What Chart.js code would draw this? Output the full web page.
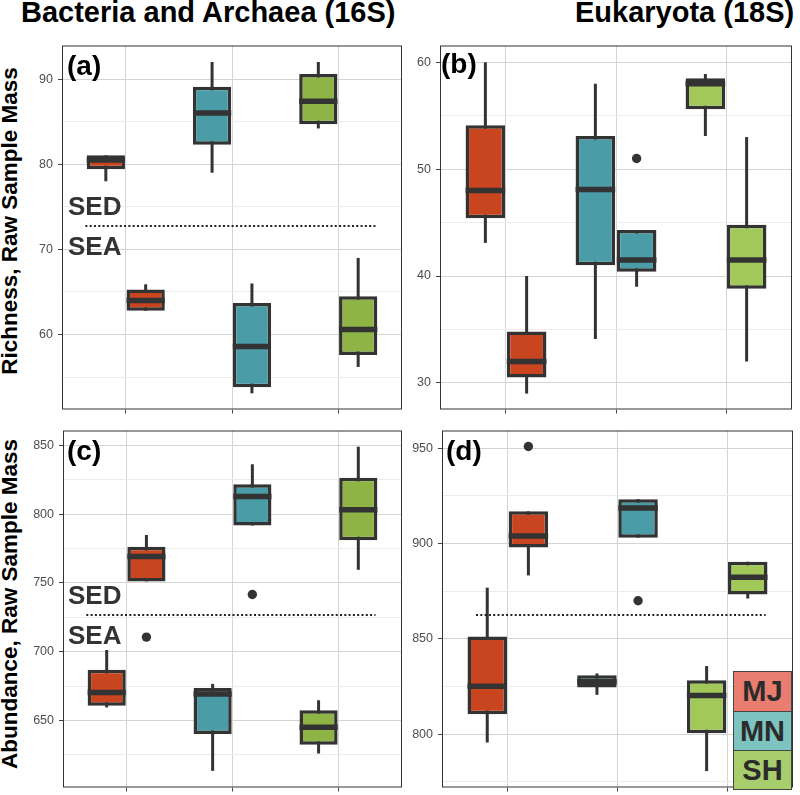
<!DOCTYPE html>
<html>
<head>
<meta charset="utf-8">
<script src="https://cdn.jsdelivr.net/npm/chart.js@4.4.1/dist/chart.umd.min.js"></script>
<style>
  body { margin: 0; background: #fff; font-family: "Liberation Sans", Arial, sans-serif; }
  #page { position: relative; width: 800px; height: 795px; overflow: hidden; }
  canvas { position: absolute; }
  .title { position: absolute; font-weight: bold; font-size: 29px; line-height: 29px; color: #000; white-space: nowrap; }
  .ytitle { position: absolute; font-weight: bold; font-size: 22.5px; line-height: 22.5px; color: #000; white-space: nowrap; transform: translate(-50%, -50%) rotate(-90deg); }
  .tag { position: absolute; font-weight: bold; font-size: 28px; line-height: 28px; color: #000; }
  .zone { position: absolute; font-weight: bold; font-size: 26px; line-height: 26px; color: #333; }
  .key { position: absolute; left: 733px; width: 59px; box-sizing: border-box; border: 1px solid #444; text-align: center; font-weight: bold; font-size: 29px; color: #2b2b2b; }
</style>
</head>
<body>
<div id="page">
  <div class="title" style="left:21px;top:-2px">Bacteria and Archaea (16S)</div>
  <div class="title" style="left:575px;top:-2px">Eukaryota (18S)</div>
  <div class="ytitle" style="left:10px;top:221px">Richness, Raw Sample Mass</div>
  <div class="ytitle" style="left:10px;top:604px">Abundance, Raw Sample Mass</div>

  <canvas id="chartA"></canvas>
  <canvas id="chartB"></canvas>
  <canvas id="chartC"></canvas>
  <canvas id="chartD"></canvas>

  <div class="tag" style="left:67px;top:52px">(a)</div>
  <div class="tag" style="left:441px;top:50px">(b)</div>
  <div class="tag" style="left:67px;top:437px">(c)</div>
  <div class="tag" style="left:446px;top:437px">(d)</div>

  <div class="zone" style="left:68px;top:193px">SED</div>
  <div class="zone" style="left:68px;top:233px">SEA</div>
  <div class="zone" style="left:68px;top:582px">SED</div>
  <div class="zone" style="left:68px;top:622px">SEA</div>

  <div class="key" style="top:671px;height:41px;line-height:39px;background:#E97D6F">MJ</div>
  <div class="key" style="top:711px;height:40px;line-height:38px;background:#7DC3C0">MN</div>
  <div class="key" style="top:750px;height:40px;line-height:38px;background:#A8CD6D">SH</div>
</div>

<script>
// sites, each has two boxes side by side (left, right)
const groups = ["MJ", "MN", "SH"];

// boxes: [min, q1, median, q3, max], order MJ-L, MJ-R, MN-L, MN-R, SH-L, SH-R
const richBac = [
  [78, 79.4, 80.5, 81.05, 81.05],
  [62.8, 62.8, 64.0, 65.3, 65.9],
  [79, 82.3, 86.0, 89.1, 92],
  [53.1, 53.8, 58.6, 63.7, 66],
  [84.2, 84.7, 87.4, 90.6, 92],
  [56.2, 57.6, 60.6, 64.5, 69]
];
const richEuk = [
  [43.1, 45.4, 48.0, 54.1, 60],
  [29, 30.5, 32.0, 34.8, 40],
  [34.1, 41.0, 48.1, 53.1, 58],
  [39.0, 40.4, 41.5, 44.3, 44.3],
  [53.1, 55.6, 58.0, 58.5, 58.9],
  [32.0, 38.8, 41.5, 44.8, 53]
];
const abundBac = [
  [659.5, 660.7, 670.4, 686.9, 701.2],
  [751.1, 751.1, 769.1, 776.2, 784.8],
  [613.4, 640.1, 669.3, 673.6, 676.6],
  [791.7, 791.7, 812.8, 821.6, 836.2],
  [626, 632.4, 645.1, 657.5, 664.7],
  [759.5, 781.0, 803.2, 826.4, 849]
];
const abundEuk = [
  [795.7, 810.5, 825.2, 851.3, 876.9],
  [883.3, 897.9, 904.0, 916.9, 916.9],
  [820.7, 824.6, 827.6, 831, 831.9],
  [903.1, 903.1, 918.6, 923.3, 923.3],
  [780.7, 800.5, 820.3, 828.4, 835.8],
  [871.2, 873.3, 882.4, 890.5, 890.5]
];

// outliers: [box index, value]
const richBacOut = [];
const richEukOut = [[3, 51.0]];
const abundBacOut = [[1, 710.6], [3, 741.6]];
const abundEukOut = [[1, 950.9], [3, 870]];

// SED / SEA split level (null = none)
const richBacSplit = 72.7;
const richEukSplit = null;
const abundBacSplit = 726.8;
const abundEukSplit = 862.6;

// y tick labels
const richBacTicks = [60, 70, 80, 90];
const richEukTicks = [30, 40, 50, 60];
const abundBacTicks = [650, 700, 750, 800, 850];
const abundEukTicks = [800, 850, 900, 950];

const RED = "#C9451F", TEAL = "#4A9CA7";
const fillsLeft = [RED, TEAL, "#8DB444"];
const fillsRight = [RED, TEAL, "#A2C85A"];

const xPos = groups.flatMap((g, i) => [i + 1 - 0.1875, i + 1 + 0.1875]);

Chart.defaults.font.family = '"Liberation Sans", Arial, sans-serif';

function buildPanel(id, area, yRange, boxes, outliers, split, splitSpan, majors, step, fills) {
  const padL = 45, padT = 10, padR = 5, padB = 10;
  const canvas = document.getElementById(id);
  const w = area.r - area.l + padL + padR;
  const h = area.b - area.t + padT + padB;
  canvas.width = w;
  canvas.height = h;
  canvas.style.width = w + "px";
  canvas.style.height = h + "px";
  canvas.style.left = area.l - padL + "px";
  canvas.style.top = area.t - padT + "px";

  const allTicks = [];
  majors.forEach((v) => {
    allTicks.push(v);
    [v - step / 2, v + step / 2].forEach((m) => {
      if (m > yRange[0] && m < yRange[1] && !allTicks.includes(m)) allTicks.push(m);
    });
  });
  allTicks.sort((a, b) => a - b);
  const isMajor = (v) => majors.includes(v);

  const extras = {
    id: "boxExtras",
    beforeDatasetsDraw(chart) {
      const { ctx, scales: { x, y } } = chart;
      ctx.save();
      ctx.strokeStyle = "#333";
      ctx.lineWidth = 3;
      boxes.forEach((b, i) => {
        const px = x.getPixelForValue(xPos[i]);
        ctx.beginPath();
        ctx.moveTo(px, y.getPixelForValue(b[0]));
        ctx.lineTo(px, y.getPixelForValue(b[4]));
        ctx.stroke();
      });
      ctx.restore();
    },
    afterDatasetsDraw(chart) {
      const { ctx, chartArea: a, scales: { x, y } } = chart;
      const bars = chart.getDatasetMeta(0).data;
      ctx.save();
      ctx.strokeStyle = "#333";
      ctx.lineWidth = 5.5;
      boxes.forEach((b, i) => {
        const bar = bars[i];
        const py = y.getPixelForValue(b[2]);
        ctx.beginPath();
        ctx.moveTo(bar.x - bar.width / 2, py);
        ctx.lineTo(bar.x + bar.width / 2, py);
        ctx.stroke();
      });
      if (split !== null) {
        const py = Math.round(y.getPixelForValue(split));
        ctx.strokeStyle = "#222";
        ctx.lineWidth = 2;
        ctx.setLineDash([2, 2.3]);
        ctx.beginPath();
        ctx.moveTo(x.getPixelForValue(splitSpan[0]), py);
        ctx.lineTo(x.getPixelForValue(splitSpan[1]), py);
        ctx.stroke();
        ctx.setLineDash([]);
      }
      ctx.strokeStyle = "#333";
      ctx.lineWidth = 1;
      ctx.strokeRect(a.left + 0.5, a.top + 0.5, a.width - 1, a.height - 1);
      ctx.restore();
    },
  };

  return new Chart(canvas, {
    type: "bar",
    data: {
      datasets: [
        {
          type: "bar",
          data: boxes.map((b, i) => ({ x: xPos[i], y: [b[1], b[3]] })),
          backgroundColor: boxes.map((b, i) => fills[Math.floor(i / 2)]),
          borderColor: "#333",
          borderWidth: 3.5,
          borderSkipped: false,
          barPercentage: 0.96,
          categoryPercentage: 1,
        },
        {
          type: "scatter",
          data: outliers.map((o) => ({ x: xPos[o[0]], y: o[1] })),
          pointRadius: 4.7,
          backgroundColor: "#333",
          borderWidth: 0,
        },
      ],
    },
    options: {
      responsive: false,
      animation: false,
      layout: { padding: { top: padT, right: padR, left: 0, bottom: 0 } },
      plugins: { legend: { display: false }, tooltip: { enabled: false } },
      scales: {
        x: {
          type: "linear",
          min: 0.4,
          max: 3.6,
          offset: false,
          border: { display: false },
          grid: { offset: false, color: "#d4d4d4", tickColor: "#444", tickLength: 4 },
          ticks: { callback: () => "" },
          afterBuildTicks: (s) => { s.ticks = groups.map((g, i) => ({ value: i + 1 })); },
          afterFit: (s) => { s.height = padB; },
        },
        y: {
          min: yRange[0],
          max: yRange[1],
          border: { display: false },
          grid: {
            color: (c) => (isMajor(c.tick.value) ? "#d4d4d4" : "#ebebeb"),
            tickColor: (c) => (isMajor(c.tick.value) ? "#444" : "rgba(0,0,0,0)"),
            tickLength: 4,
          },
          ticks: {
            autoSkip: false,
            padding: 5,
            color: "#4d4d4d",
            font: { size: 12.5 },
            callback: (v) => (isMajor(v) ? v : ""),
          },
          afterBuildTicks: (s) => { s.ticks = allTicks.map((v) => ({ value: v })); },
          afterFit: (s) => { s.width = padL; },
        },
      },
    },
    plugins: [extras],
  });
}

buildPanel("chartA", { l: 62, t: 43, r: 402, b: 412 }, [51.2, 93.94],
  richBac, richBacOut, richBacSplit, [0.62, 3.35], richBacTicks, 10, fillsLeft);
buildPanel("chartB", { l: 440, t: 43, r: 792, b: 412 }, [27.51, 61.57],
  richEuk, richEukOut, richEukSplit, [0.62, 3.35], richEukTicks, 10, fillsRight);
buildPanel("chartC", { l: 63, t: 428, r: 402, b: 790 }, [601.3, 860.75],
  abundBac, abundBacOut, abundBacSplit, [0.62, 3.35], abundBacTicks, 50, fillsLeft);
buildPanel("chartD", { l: 442, t: 428, r: 793, b: 790 }, [772.1, 959.3],
  abundEuk, abundEukOut, abundEukSplit, [0.71, 3.35], abundEukTicks, 50, fillsRight);
</script>
</body>
</html>
